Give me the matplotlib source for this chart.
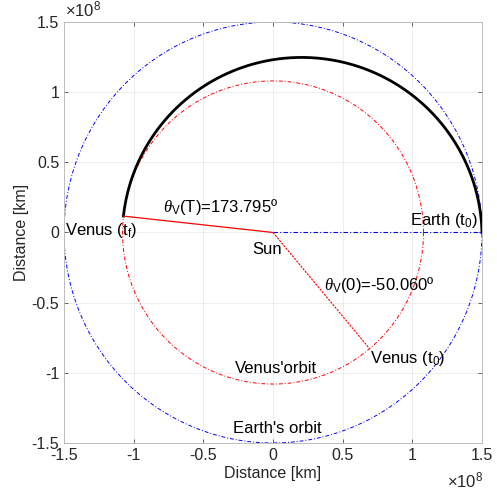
import numpy as np
import matplotlib
matplotlib.use('Agg')
import matplotlib.pyplot as plt
from matplotlib.ticker import FuncFormatter

# Du lieu quy dao (km, do)
r_trai_dat = 1.5e8
r_sao_kim = 1.08e8
goc_kim_t0 = -50.060
goc_kim_T = 173.795
# Tham so quy dao chuyen tiep (conic, tieu diem tai Mat Troi)
p_chuyen = 1.2566e8
e_chuyen = 0.1636
omega_chuyen = 172.8

nhan = {
    'goc_T': r'$\theta_{\mathrm{V}}$(T)=173.795º',
    'goc_0': r'$\theta_{\mathrm{V}}$(0)=-50.060º',
}

plt.rcParams['font.family'] = ['Liberation Sans', 'DejaVu Sans']
plt.rcParams['mathtext.fontset'] = 'custom'
plt.rcParams['mathtext.rm'] = 'Liberation Sans'
plt.rcParams['mathtext.it'] = 'Liberation Serif:italic'

fig = plt.figure(figsize=(4.97, 4.92), dpi=100)
ax = fig.add_axes([0.1288, 0.0996, 0.841, 0.8557])

t = np.linspace(0, 2 * np.pi, 721)
dd = (4, 2, 1, 2)
ax.plot(r_trai_dat * np.cos(t), r_trai_dat * np.sin(t), color='#0000ff', lw=0.7, dashes=dd)
ax.plot(r_sao_kim * np.cos(t), r_sao_kim * np.sin(t), color='#ff0000', lw=0.7, dashes=dd)

# quy dao chuyen tiep
th = np.radians(np.linspace(0, goc_kim_T, 400))
r = p_chuyen / (1 + e_chuyen * np.cos(th - np.radians(omega_chuyen)))
ax.plot(r * np.cos(th), r * np.sin(th), color='black', lw=2)

# duong noi Mat Troi
ax.plot([0, r_trai_dat], [0, 0], color='#0000ff', lw=0.8, dashes=dd)
aT = np.radians(goc_kim_T)
a0 = np.radians(goc_kim_t0)
ax.plot([0, r_sao_kim * np.cos(aT)], [0, r_sao_kim * np.sin(aT)], color='#ff0000', lw=0.9)
ax.plot([0, r_sao_kim * np.cos(a0)], [0, r_sao_kim * np.sin(a0)], color='#ff0000', lw=0.8, dashes=(2, 1))

fs = 12
ax.text(-0.79e8, 0.143e8, nhan['goc_T'], fontsize=fs, va='baseline')
ax.text(-1.49e8, -0.02e8, r'Venus (t$_{\mathrm{f}}$)', fontsize=fs, va='baseline')
ax.text(-0.15e8, -0.15e8, 'Sun', fontsize=fs, va='baseline')
ax.text(0.983e8, 0.05e8, r'Earth (t$_{\mathrm{0}}$)', fontsize=fs, va='baseline')
ax.text(0.366e8, -0.413e8, nhan['goc_0'], fontsize=fs, va='baseline')
ax.text(0.696e8, -0.927e8, r'Venus (t$_{\mathrm{0}}$)', fontsize=fs, va='baseline')
ax.text(-0.273e8, -1.0e8, "Venus'orbit", fontsize=fs, va='baseline')
ax.text(-0.287e8, -1.43e8, "Earth's orbit", fontsize=fs, va='baseline')

ax.set_xlim(-1.5e8, 1.5e8)
ax.set_ylim(-1.5e8, 1.5e8)
ve = [-1.5e8, -1e8, -0.5e8, 0, 0.5e8, 1e8, 1.5e8]
ax.set_xticks(ve)
ax.set_yticks(ve)
fmt = FuncFormatter(lambda v, pos: f'{v / 1e8:g}')
ax.xaxis.set_major_formatter(fmt)
ax.yaxis.set_major_formatter(fmt)
ax.tick_params(direction='in', length=3, width=0.6, colors='#4d4d4d',
               labelcolor='#262626', labelsize=11.5, top=True, right=True)
ax.grid(color='#ebebeb', lw=0.6)
ax.set_axisbelow(True)
for s in ax.spines.values():
    s.set_color('#bdbdbd')
    s.set_linewidth(0.7)

ax.set_xlabel('Distance [km]', fontsize=11.5, color='#262626', labelpad=2)
ax.set_ylabel('Distance [km]', fontsize=11.5, color='#262626', labelpad=2)

fig.text(0.130, 0.960, r'$\times\mathregular{10^{8}}$', fontsize=12, color='#262626', va='bottom')
fig.text(0.900, 0.004, r'$\times\mathregular{10^{8}}$', fontsize=12, color='#262626', va='bottom')

fig.savefig('out.png', dpi=100)
